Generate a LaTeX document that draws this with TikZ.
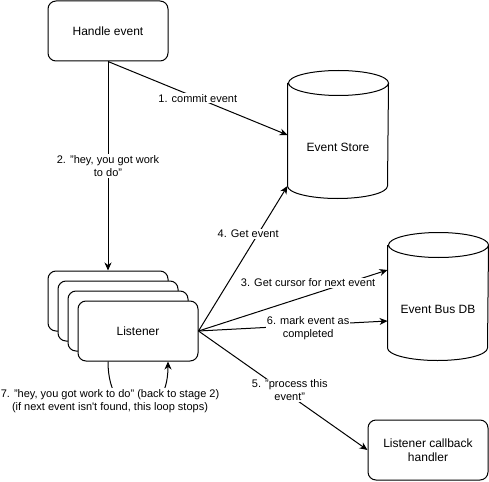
\documentclass[tikz,border=0pt]{standalone}
\usepackage{fontspec}
\setmainfont{Liberation Sans}
\usetikzlibrary{arrows.meta}
\newcommand\drum[2]{%
  \draw ([yshift=12.5pt]#1.north west) -- ([yshift=12.5pt]#1.south west)
    arc[start angle=180, end angle=360, x radius=#2, y radius=12.5pt]
    -- ([yshift=12.5pt]#1.north east)
    arc[start angle=0, end angle=360, x radius=#2, y radius=12.5pt];
}
\begin{document}
\begin{tikzpicture}[x=1pt, y=-1pt, line width=1pt,
  >={Stealth[length=8pt,width=7pt,inset=2.5pt]},
  box/.style={draw, rounded corners=8pt, fill=white, minimum width=120pt,
    minimum height=60pt, align=center, font=\fontsize{12}{14}\selectfont},
  store/.style={minimum width=100pt, minimum height=102pt, font=\fontsize{12}{14}\selectfont},
  lbl/.style={fill=white, inner sep=1pt, align=center, font=\fontsize{11}{13}\selectfont}]
\useasboundingbox (0,0) rectangle (489,481);
\node[box] (hev) at (108,31) {Handle event};
\foreach \i in {1,2,3} {
  \node[box] (L\i) at (98+10*\i,291+10*\i) {};
}
\node[box] (L4) at (138,331) {Listener};
\node[store] (evstore) at (338,147) {Event Store};
\node[store] (busdb) at (438,309) {Event Bus DB};
\drum{evstore}{50pt}
\drum{busdb}{50pt}
\node[box] (cbh) at (428,450) {Listener callback\\handler};
\draw[->] (hev.south) -- node[lbl] (l1) {1. commit event} ([yshift=12pt]evstore.west);
\draw[->] (hev.south) -- node[lbl] (l2) {2. "hey, you got work\\to do"} (L1.north);
\draw[->] (L4.east) -- node[lbl, pos=0.67, xshift=-10pt] (l4) {4. Get event}
  ([yshift=12.5pt]evstore.south west);
\draw[->] (L4.east) -- node[lbl, pos=0.58, yshift=13pt] (l3) {3. Get cursor for next event}
  ([yshift=39pt]busdb.west);
\draw[->] (L4.east) -- node[lbl, pos=0.58, yshift=-3pt] (l6) {6. mark event as\\completed}
  ([yshift=-12pt]busdb.west);
\draw[->] (L4.east) -- node[lbl, pos=0.54, yshift=5pt] (l5) {5. "process this\\event"} (cbh.west);
\draw[->] ([xshift=-30pt]L4.south) .. controls +(0,65) and +(0,65) .. ([xshift=30pt]L4.south);
\node[lbl] (l7) at (110,401) {7. "hey, you got work to do" (back to stage 2)\\(if next event isn\textquotesingle t found, this loop stops)};
\end{tikzpicture}
\end{document}
